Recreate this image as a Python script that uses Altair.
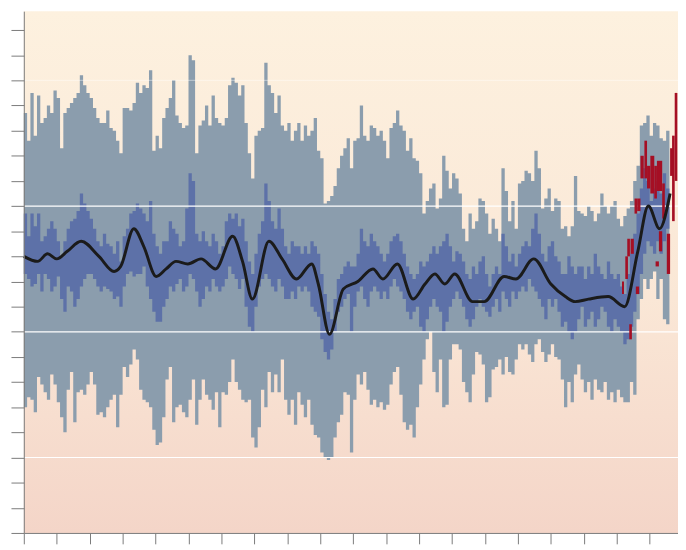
import altair as alt
import pandas as pd

# ---- data (°C anomaly) ----
start_year = 1000
bin_years = 5

gray_hi = [
    0.87, 0.76, 0.95, 0.78, 0.94, 0.83, 0.85, 0.90, 0.87, 0.96,
    0.93, 0.73, 0.87, 0.89, 0.91, 0.93, 0.95, 1.02, 0.98, 0.95,
    0.93, 0.89, 0.85, 0.83, 0.83, 0.88, 0.81, 0.80, 0.76, 0.71,
    0.89, 0.89, 0.88, 0.91, 0.99, 0.95, 0.98, 0.97, 1.04, 0.72,
    0.78, 0.73, 0.85, 0.89, 0.93, 1.00, 0.86, 0.83, 0.81, 0.82,
    1.10, 1.08, 0.71, 0.82, 0.84, 0.90, 0.82, 0.94, 0.85, 0.83,
    0.82, 0.85, 0.98, 1.01, 0.99, 0.94, 0.98, 0.83, 0.71, 0.61,
    0.78, 0.80, 0.81, 1.07, 0.98, 0.95, 0.87, 0.94, 0.82, 0.80,
    0.83, 0.76, 0.80, 0.83, 0.76, 0.82, 0.78, 0.80, 0.85, 0.72,
    0.69, 0.51, 0.52, 0.54, 0.58, 0.65, 0.70, 0.73, 0.77, 0.65,
    0.76, 0.77, 0.90, 0.78, 0.76, 0.82, 0.81, 0.78, 0.80, 0.76,
    0.69, 0.81, 0.83, 0.88, 0.82, 0.80, 0.72, 0.77, 0.69, 0.68,
    0.63, 0.47, 0.52, 0.57, 0.59, 0.49, 0.53, 0.70, 0.64, 0.57,
    0.63, 0.61, 0.55, 0.41, 0.36, 0.47, 0.41, 0.44, 0.53, 0.52,
    0.47, 0.39, 0.45, 0.41, 0.36, 0.65, 0.56, 0.44, 0.52, 0.41,
    0.59, 0.60, 0.64, 0.63, 0.60, 0.72, 0.65, 0.49, 0.53, 0.57,
    0.48, 0.53, 0.52, 0.41, 0.42, 0.38, 0.42, 0.62, 0.48, 0.47,
    0.46, 0.50, 0.48, 0.44, 0.47, 0.55, 0.50, 0.47, 0.50, 0.52,
    0.45, 0.42, 0.46, 0.49, 0.52, 0.60, 0.66, 0.82, 0.83, 0.86,
    0.78, 0.83, 0.82, 0.77, 0.76, 0.80,
]

gray_lo = [
    -0.30, -0.26, -0.27, -0.32, -0.18, -0.21, -0.24, -0.27, -0.17, -0.21,
    -0.28, -0.34, -0.40, -0.23, -0.16, -0.36, -0.24, -0.23, -0.25, -0.21,
    -0.16, -0.21, -0.33, -0.32, -0.34, -0.30, -0.27, -0.25, -0.38, -0.25,
    -0.14, -0.18, -0.13, -0.07, -0.11, -0.23, -0.27, -0.28, -0.30, -0.39,
    -0.45, -0.44, -0.34, -0.19, -0.14, -0.36, -0.30, -0.29, -0.32, -0.34,
    -0.27, -0.19, -0.37, -0.27, -0.19, -0.25, -0.27, -0.31, -0.24, -0.38,
    -0.24, -0.25, -0.20, -0.11, -0.20, -0.23, -0.27, -0.28, -0.27, -0.42,
    -0.46, -0.38, -0.23, -0.30, -0.16, -0.24, -0.17, -0.24, -0.11, -0.27,
    -0.33, -0.27, -0.37, -0.24, -0.29, -0.34, -0.27, -0.37, -0.41, -0.42,
    -0.48, -0.50, -0.51, -0.50, -0.42, -0.36, -0.33, -0.24, -0.25, -0.48,
    -0.27, -0.17, -0.21, -0.16, -0.23, -0.29, -0.27, -0.30, -0.28, -0.31,
    -0.29, -0.21, -0.16, -0.14, -0.25, -0.36, -0.39, -0.37, -0.42, -0.30,
    -0.21, -0.11, -0.03, 0.00, -0.16, -0.24, -0.11, -0.30, -0.29, -0.11,
    -0.05, -0.05, -0.07, -0.20, -0.24, -0.28, -0.17, -0.08, -0.09, -0.13,
    -0.28, -0.26, -0.15, -0.14, -0.11, -0.17, -0.10, -0.16, -0.17, -0.11,
    -0.05, -0.07, -0.05, -0.09, -0.12, -0.05, -0.03, -0.08, -0.12, -0.09,
    -0.05, -0.10, -0.11, -0.19, -0.30, -0.20, -0.28, -0.17, -0.13, -0.19,
    -0.24, -0.20, -0.27, -0.19, -0.23, -0.24, -0.20, -0.27, -0.24, -0.28,
    -0.23, -0.26, -0.28, -0.28, -0.20, -0.25, 0.05, 0.13, 0.21, 0.17,
    0.21, 0.24, 0.13, 0.21, 0.05, 0.03,
]

blue_hi = [
    0.47, 0.38, 0.47, 0.42, 0.47, 0.36, 0.38, 0.41, 0.44, 0.41,
    0.36, 0.30, 0.36, 0.41, 0.44, 0.45, 0.48, 0.55, 0.51, 0.48,
    0.45, 0.41, 0.36, 0.34, 0.39, 0.35, 0.34, 0.31, 0.36, 0.28,
    0.38, 0.41, 0.47, 0.48, 0.51, 0.49, 0.47, 0.44, 0.52, 0.39,
    0.34, 0.31, 0.36, 0.36, 0.44, 0.41, 0.39, 0.34, 0.36, 0.49,
    0.63, 0.60, 0.39, 0.36, 0.40, 0.36, 0.34, 0.39, 0.36, 0.31,
    0.34, 0.44, 0.47, 0.45, 0.47, 0.42, 0.45, 0.36, 0.28, 0.23,
    0.31, 0.39, 0.44, 0.59, 0.52, 0.44, 0.41, 0.49, 0.41, 0.34,
    0.31, 0.36, 0.34, 0.34, 0.31, 0.34, 0.31, 0.36, 0.34, 0.31,
    0.23, 0.15, 0.08, 0.05, 0.13, 0.21, 0.23, 0.26, 0.28, 0.26,
    0.26, 0.31, 0.41, 0.36, 0.34, 0.39, 0.36, 0.34, 0.31, 0.28,
    0.31, 0.36, 0.38, 0.39, 0.36, 0.31, 0.26, 0.23, 0.21, 0.23,
    0.28, 0.26, 0.28, 0.31, 0.34, 0.31, 0.34, 0.36, 0.39, 0.34,
    0.28, 0.32, 0.31, 0.28, 0.23, 0.21, 0.26, 0.23, 0.28, 0.30,
    0.23, 0.18, 0.23, 0.26, 0.23, 0.39, 0.34, 0.28, 0.31, 0.26,
    0.31, 0.34, 0.36, 0.34, 0.41, 0.47, 0.39, 0.31, 0.28, 0.34,
    0.36, 0.30, 0.28, 0.23, 0.23, 0.30, 0.26, 0.23, 0.26, 0.26,
    0.21, 0.26, 0.23, 0.31, 0.26, 0.23, 0.21, 0.28, 0.23, 0.21,
    0.23, 0.18, 0.15, 0.23, 0.31, 0.39, 0.47, 0.57, 0.65, 0.60,
    0.52, 0.57, 0.60, 0.55, 0.63, 0.57,
]

blue_lo = [
    0.23, 0.21, 0.18, 0.19, 0.23, 0.16, 0.23, 0.21, 0.16, 0.18,
    0.22, 0.13, 0.08, 0.18, 0.16, 0.10, 0.13, 0.18, 0.21, 0.23,
    0.23, 0.21, 0.18, 0.16, 0.18, 0.17, 0.16, 0.13, 0.14, 0.10,
    0.18, 0.23, 0.24, 0.22, 0.23, 0.23, 0.26, 0.18, 0.13, 0.08,
    0.04, 0.04, 0.10, 0.13, 0.18, 0.16, 0.19, 0.21, 0.16, 0.18,
    0.23, 0.21, 0.16, 0.10, 0.13, 0.18, 0.16, 0.21, 0.18, 0.16,
    0.18, 0.21, 0.26, 0.23, 0.21, 0.17, 0.21, 0.10, 0.02, 0.00,
    0.10, 0.18, 0.21, 0.23, 0.21, 0.18, 0.16, 0.21, 0.18, 0.13,
    0.13, 0.16, 0.13, 0.18, 0.16, 0.18, 0.16, 0.10, 0.08, 0.06,
    -0.03, -0.08, -0.11, -0.07, 0.00, 0.08, 0.10, 0.13, 0.15, 0.00,
    0.10, 0.16, 0.18, 0.13, 0.10, 0.16, 0.18, 0.16, 0.13, 0.16,
    0.13, 0.18, 0.21, 0.18, 0.16, 0.13, 0.08, 0.05, 0.08, 0.10,
    0.02, 0.00, 0.05, 0.10, 0.13, 0.10, 0.08, 0.00, 0.04, 0.10,
    0.13, 0.16, 0.13, 0.10, 0.05, 0.02, 0.05, 0.10, 0.13, 0.10,
    0.08, 0.06, 0.10, 0.13, 0.08, 0.16, 0.13, 0.10, 0.16, 0.13,
    0.16, 0.18, 0.16, 0.21, 0.18, 0.16, 0.13, 0.10, 0.05, 0.13,
    0.10, 0.13, 0.08, 0.02, 0.04, 0.00, -0.03, 0.00, 0.05, 0.10,
    0.02, 0.05, 0.08, 0.02, 0.05, 0.10, 0.08, 0.02, 0.00, 0.05,
    0.02, 0.00, -0.05, -0.03, 0.02, 0.08, 0.15, 0.23, 0.31, 0.36,
    0.34, 0.31, 0.36, 0.31, 0.36, 0.41,
]

red_start = [1908, 1913, 1916, 1919, 1921, 1927, 1929, 1931, 1936, 1942, 1946,
             1951, 1957, 1959, 1961, 1964, 1969, 1976, 1981, 1984, 1988]
red_end = [1911, 1917, 1920, 1923, 1926, 1931, 1934, 1936, 1941, 1946, 1951,
           1957, 1961, 1964, 1969, 1969, 1973, 1981, 1986, 1988, 1992]
red_lo = [0.15, 0.21, 0.30, -0.03, 0.31, 0.47, 0.15, 0.48, 0.61, 0.61, 0.57,
          0.55, 0.53, 0.26, 0.56, 0.32, 0.45, 0.23, 0.62, 0.44, 0.60]
red_hi = [0.20, 0.30, 0.37, 0.03, 0.37, 0.53, 0.18, 0.53, 0.70, 0.76, 0.66,
          0.70, 0.66, 0.28, 0.68, 0.40, 0.59, 0.39, 0.73, 0.78, 0.95]

black_year = [1000, 1021, 1036, 1050, 1066, 1087, 1114, 1137, 1147, 1167,
              1182, 1201, 1216, 1231, 1249, 1269, 1291, 1317, 1332, 1347,
              1372, 1392, 1414, 1437, 1447, 1464, 1485, 1507, 1530, 1545,
              1567, 1591, 1609, 1624, 1639, 1654, 1681, 1699, 1729, 1747,
              1774, 1800, 1822, 1837, 1857, 1887, 1912, 1932, 1948, 1965, 1981]
black_val = [0.30, 0.28, 0.31, 0.29, 0.32, 0.36, 0.30, 0.24, 0.26, 0.41,
             0.34, 0.22, 0.25, 0.28, 0.27, 0.29, 0.25, 0.38, 0.28, 0.13,
             0.36, 0.29, 0.21, 0.27, 0.19, -0.01, 0.17, 0.20, 0.25, 0.21,
             0.27, 0.13, 0.19, 0.23, 0.19, 0.23, 0.12, 0.12, 0.22, 0.21,
             0.29, 0.19, 0.14, 0.12, 0.13, 0.14, 0.10, 0.32, 0.50, 0.41, 0.55]

x_ticks = list(range(1000, 1951, 50))
y_ticks = [round(-0.8 + 0.1 * i, 1) for i in range(21)]
grid_vals = [-0.5, 0.0, 0.5]
faint_grid_vals = [1.0]

# ---- tables ----
years = [start_year + bin_years * i for i in range(len(gray_hi))]
band = pd.DataFrame({
    "year": years,
    "gray_lo": gray_lo, "gray_hi": gray_hi,
    "blue_lo": blue_lo, "blue_hi": blue_hi,
})
# closing row so the last step has its full width
last = band.iloc[[-1]].copy()
last["year"] = years[-1] + bin_years
band_steps = pd.concat([band, last], ignore_index=True)

red = pd.DataFrame({"start": red_start, "end": red_end, "lo": red_lo, "hi": red_hi})
black = pd.DataFrame({"year": black_year, "val": black_val})
grid = pd.DataFrame({"g": grid_vals})
faint_grid = pd.DataFrame({"g": faint_grid_vals})

W, H = 662, 528
GRAY = "#8b9dad"
BLUE = "#5d71a8"
RED = "#a50f24"
AX = "#7a7a7a"

xs = alt.Scale(domain=[1000, 1993], nice=False, zero=False)
ys = alt.Scale(domain=[-0.8, 1.275], nice=False, zero=False)

xaxis = alt.Axis(values=x_ticks, labels=False, title=None, grid=False,
                 tickSize=11, tickColor=AX, domainColor=AX, tickWidth=1,
                 domainWidth=1, zindex=1)
yaxis = alt.Axis(values=y_ticks, labels=False, title=None, grid=False,
                 tickSize=13, tickColor=AX, domainColor=AX, tickWidth=1,
                 domainWidth=1, zindex=1)

bg = alt.Chart(pd.DataFrame({"a": [0]})).mark_rect(
    color=alt.Gradient(
        gradient="linear",
        stops=[alt.GradientStop(color="#fdf1df", offset=0),
               alt.GradientStop(color="#fae7d6", offset=0.55),
               alt.GradientStop(color="#f4d5c8", offset=1)],
        x1=0, x2=0, y1=0, y2=1)
).encode(x=alt.value(0), x2=alt.value(W), y=alt.value(0), y2=alt.value(H))

gray_layer = alt.Chart(band_steps).mark_area(color=GRAY, interpolate="step-after").encode(
    x=alt.X("year:Q", scale=xs, axis=xaxis),
    y=alt.Y("gray_lo:Q", scale=ys, axis=yaxis),
    y2="gray_hi:Q",
)

blue_layer = alt.Chart(band_steps).mark_area(color=BLUE, interpolate="step-after").encode(
    x=alt.X("year:Q", scale=xs, axis=xaxis),
    y=alt.Y("blue_lo:Q", scale=ys, axis=yaxis),
    y2="blue_hi:Q",
)

grid_layer = alt.Chart(grid).mark_rule(color="white", strokeWidth=1.2).encode(
    y=alt.Y("g:Q", scale=ys, axis=yaxis)
)

faint_grid_layer = alt.Chart(faint_grid).mark_rule(color="white", strokeWidth=1,
                                                   opacity=0.45).encode(
    y=alt.Y("g:Q", scale=ys, axis=yaxis)
)

red_layer = alt.Chart(red).mark_rect(color=RED).encode(
    x=alt.X("start:Q", scale=xs, axis=xaxis),
    x2="end:Q",
    y=alt.Y("lo:Q", scale=ys, axis=yaxis),
    y2="hi:Q",
)

black_layer = alt.Chart(black).mark_line(color="#1b1b1b", strokeWidth=3,
                                         interpolate="monotone").encode(
    x=alt.X("year:Q", scale=xs, axis=xaxis),
    y=alt.Y("val:Q", scale=ys, axis=yaxis),
)

chart = alt.layer(bg, gray_layer, blue_layer, grid_layer, faint_grid_layer,
                  red_layer, black_layer).properties(
    width=W, height=H,
    padding={"left": 16, "top": 0, "right": 0, "bottom": 12},
    autosize=alt.AutoSizeParams(type="none"),
).configure_view(stroke=None)

chart.save("out.html", embed_options={"renderer": "svg", "actions": False})
